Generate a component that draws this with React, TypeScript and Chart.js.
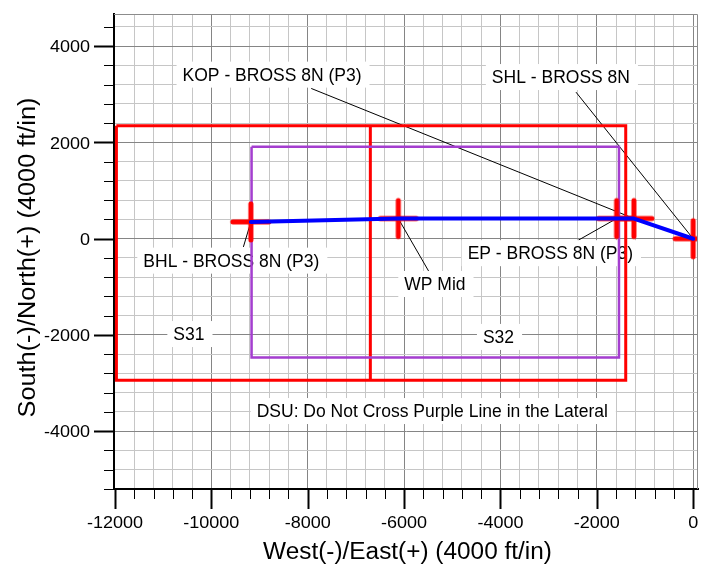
import React, { useEffect, useRef } from 'react';
import { Chart, registerables } from 'chart.js';

Chart.register(...registerables);

// Axis ranges (ft)
const X_MIN = -12020;
const X_MAX = 100;
const Y_MIN = -5200;
const Y_MAX = 4670;
const xMajorTicks = [-12000, -10000, -8000, -6000, -4000, -2000, 0];
const yMajorTicks = [-4000, -2000, 0, 2000, 4000];
const xMinorTicks = [-12000, -11600, -11200, -10800, -10400, -10000, -9600, -9200, -8800, -8400, -8000, -7600, -7200, -6800, -6400, -6000, -5600, -5200, -4800, -4400, -4000, -3600, -3200, -2800, -2400, -2000, -1600, -1200, -800, -400, 0];
const yMinorTicks = [-5200, -4800, -4400, -4000, -3600, -3200, -2800, -2400, -2000, -1600, -1200, -800, -400, 0, 400, 800, 1200, 1600, 2000, 2400, 2800, 3200, 3600, 4000, 4400];

// Section outlines (red) and drilling limit (purple)
const outerBoxX = [-11970, -1400, -1400, -11970, -11970];
const outerBoxY = [2350, 2350, -2940, -2940, 2350];
const dividerX = [-6700, -6700];
const dividerY = [2350, -2940];
const purpleBoxX = [-9165, -1540, -1540, -9165, -9165];
const purpleBoxY = [1910, 1910, -2465, -2465, 1910];

// Well path: BHL, WP Mid, EP, KOP, SHL
const wellX = [-9180, -6120, -1590, -1230, 0];
const wellY = [350, 420, 420, 420, 0];

// Annotations
const labelTexts = [
  'KOP - BROSS 8N (P3)',
  'SHL - BROSS 8N',
  'BHL - BROSS 8N (P3)',
  'WP Mid',
  'EP - BROSS 8N (P3)',
  'S31',
  'S32',
  'DSU: Do Not Cross Purple Line in the Lateral',
];
const labelX = [-8740, -2745, -9585, -5360, -2965, -10465, -4040, -5415];
const labelY = [3410, 3360, -455, -940, -300, -1980, -2040, -3580];
const leaderFromX = [-7927, -2432, -9335, -5468, -2385];
const leaderFromY = [3123, 3046, -170, -711, -31];
const leaderToX = [-1230, 0, -9180, -6120, -1590];
const leaderToY = [420, 0, 350, 420, 420];

const X_TITLE = 'West(-)/East(+) (4000 ft/in)';
const Y_TITLE = 'South(-)/North(+) (4000 ft/in)';

const FONT = '"Liberation Sans", Arial, Helvetica, sans-serif';

export default function App() {
  const ref = useRef<HTMLCanvasElement>(null);

  useEffect(() => {
    const canvas = ref.current!;
    const pts = (xs: number[], ys: number[]) => xs.map((x, i) => ({ x, y: ys[i] }));

    // round-capped red plus marker
    const mk = document.createElement('canvas');
    mk.width = 44;
    mk.height = 44;
    const mctx = mk.getContext('2d')!;
    mctx.strokeStyle = '#ff0000';
    mctx.lineWidth = 5;
    mctx.lineCap = 'round';
    mctx.beginPath();
    mctx.moveTo(22, 4);
    mctx.lineTo(22, 40);
    mctx.moveTo(4, 22);
    mctx.lineTo(40, 22);
    mctx.stroke();

    const stretched = (
      ctx: CanvasRenderingContext2D,
      text: string,
      x: number,
      y: number,
      sx: number,
      align: CanvasTextAlign,
      rot = 0
    ) => {
      ctx.save();
      ctx.translate(x, y);
      if (rot) ctx.rotate(rot);
      ctx.scale(sx, 1);
      ctx.textAlign = align;
      ctx.textBaseline = 'alphabetic';
      ctx.fillText(text, 0, 0);
      ctx.restore();
    };

    const decor = {
      id: 'decor',
      beforeDatasetsDraw(chart: any) {
        const { ctx, scales } = chart;
        const xs = scales.x;
        const ys = scales.y;
        ctx.save();
        ctx.font = `17.5px ${FONT}`;
        // leader lines
        ctx.strokeStyle = '#000';
        ctx.lineWidth = 1;
        for (let i = 0; i < leaderFromX.length; i++) {
          ctx.beginPath();
          ctx.moveTo(xs.getPixelForValue(leaderFromX[i]), ys.getPixelForValue(leaderFromY[i]));
          ctx.lineTo(xs.getPixelForValue(leaderToX[i]), ys.getPixelForValue(leaderToY[i]));
          ctx.stroke();
        }
        // label boxes and text
        for (let i = 0; i < labelTexts.length; i++) {
          const cx = xs.getPixelForValue(labelX[i]);
          const cy = ys.getPixelForValue(labelY[i]);
          const w = ctx.measureText(labelTexts[i]).width;
          ctx.fillStyle = '#ffffff';
          ctx.fillRect(cx - w / 2 - 6, cy - 13, w + 14, 26);
          ctx.fillStyle = '#000000';
          ctx.textAlign = 'center';
          ctx.textBaseline = 'alphabetic';
          ctx.fillText(labelTexts[i], cx, cy + 6.3);
        }
        ctx.restore();
      },
      afterDraw(chart: any) {
        const { ctx, scales, chartArea } = chart;
        const xs = scales.x;
        const ys = scales.y;
        ctx.save();
        // top & right frame
        ctx.strokeStyle = '#8c8c8c';
        ctx.lineWidth = 1;
        ctx.beginPath();
        ctx.moveTo(chartArea.left, chartArea.top + 0.5);
        ctx.lineTo(chartArea.right - 0.5, chartArea.top + 0.5);
        ctx.lineTo(chartArea.right - 0.5, chartArea.bottom);
        ctx.stroke();
        // tick marks
        ctx.strokeStyle = '#000';
        for (const v of xMinorTicks) {
          const major = xMajorTicks.includes(v);
          const px = Math.round(xs.getPixelForValue(v)) + 0.5;
          ctx.lineWidth = major ? 2 : 1;
          ctx.beginPath();
          ctx.moveTo(px, chartArea.bottom);
          ctx.lineTo(px, chartArea.bottom + (major ? 20 : 10));
          ctx.stroke();
        }
        for (const v of yMinorTicks) {
          const major = yMajorTicks.includes(v);
          const py = Math.round(ys.getPixelForValue(v)) + 0.5;
          ctx.lineWidth = major ? 2 : 1;
          ctx.beginPath();
          ctx.moveTo(chartArea.left, py);
          ctx.lineTo(chartArea.left - (major ? 20 : 10), py);
          ctx.stroke();
        }
        // tick labels
        ctx.fillStyle = '#000';
        ctx.font = `17px ${FONT}`;
        for (const v of xMajorTicks) {
          stretched(ctx, String(v), xs.getPixelForValue(v), chartArea.bottom + 39, 1.06, 'center');
        }
        for (const v of yMajorTicks) {
          stretched(ctx, String(v), chartArea.left - 24, ys.getPixelForValue(v) + 6.1, 1.06, 'right');
        }
        // axis titles
        ctx.font = `23px ${FONT}`;
        stretched(ctx, X_TITLE, (chartArea.left + chartArea.right) / 2 + 1.5, chartArea.bottom + 70, 1.06, 'center');
        stretched(ctx, Y_TITLE, 35, (chartArea.top + chartArea.bottom) / 2 + 6, 1.1, 'center', -Math.PI / 2);
        ctx.restore();
      },
    };

    const gridColor = (c: any) =>
      c.tick && Math.abs(c.tick.value % 2000) === 0 ? '#858585' : '#c6c6c6';

    const chart = new Chart(canvas, {
      type: 'scatter',
      data: {
        datasets: [
          {
            data: pts(wellX, wellY),
            showLine: true,
            borderColor: '#0000ff',
            borderWidth: 4,
            borderJoinStyle: 'round',
            borderCapStyle: 'round',
            pointRadius: 0,
          },
          {
            data: pts(wellX, wellY),
            showLine: false,
            pointStyle: mk as any,
            pointRadius: 20,
          },
          {
            data: pts(purpleBoxX, purpleBoxY),
            showLine: true,
            borderColor: '#a43ecf',
            borderWidth: 2.5,
            pointRadius: 0,
          },
          {
            data: pts(dividerX, dividerY),
            showLine: true,
            borderColor: '#ff0000',
            borderWidth: 3,
            pointRadius: 0,
          },
          {
            data: pts(outerBoxX, outerBoxY),
            showLine: true,
            borderColor: '#ff0000',
            borderWidth: 3,
            pointRadius: 0,
          },
        ] as any,
      },
      options: {
        responsive: false,
        animation: false,
        events: [],
        layout: { autoPadding: false, padding: { top: 14, right: 4, left: 0, bottom: 0 } },
        plugins: {
          legend: { display: false },
          tooltip: { enabled: false },
          title: { display: false },
        },
        scales: {
          x: {
            type: 'linear',
            min: X_MIN,
            max: X_MAX,
            afterBuildTicks: (s: any) => {
              s.ticks = xMinorTicks.map((v) => ({ value: v }));
            },
            afterFit: (s: any) => {
              s.height = 93;
            },
            ticks: { display: false },
            grid: { color: gridColor, lineWidth: 1, drawTicks: false },
            border: { color: '#000', width: 2 },
          },
          y: {
            type: 'linear',
            min: Y_MIN,
            max: Y_MAX,
            afterBuildTicks: (s: any) => {
              s.ticks = yMinorTicks.map((v) => ({ value: v }));
            },
            afterFit: (s: any) => {
              s.width = 114;
            },
            ticks: { display: false },
            grid: { color: gridColor, lineWidth: 1, drawTicks: false },
            border: { color: '#000', width: 2 },
          },
        },
      } as any,
      plugins: [decor],
    });
    return () => chart.destroy();
  }, []);

  return (
    <canvas
      ref={ref}
      width={702}
      height={582}
      style={{ position: 'absolute', left: 0, top: 0, width: 702, height: 582 }}
    />
  );
}
